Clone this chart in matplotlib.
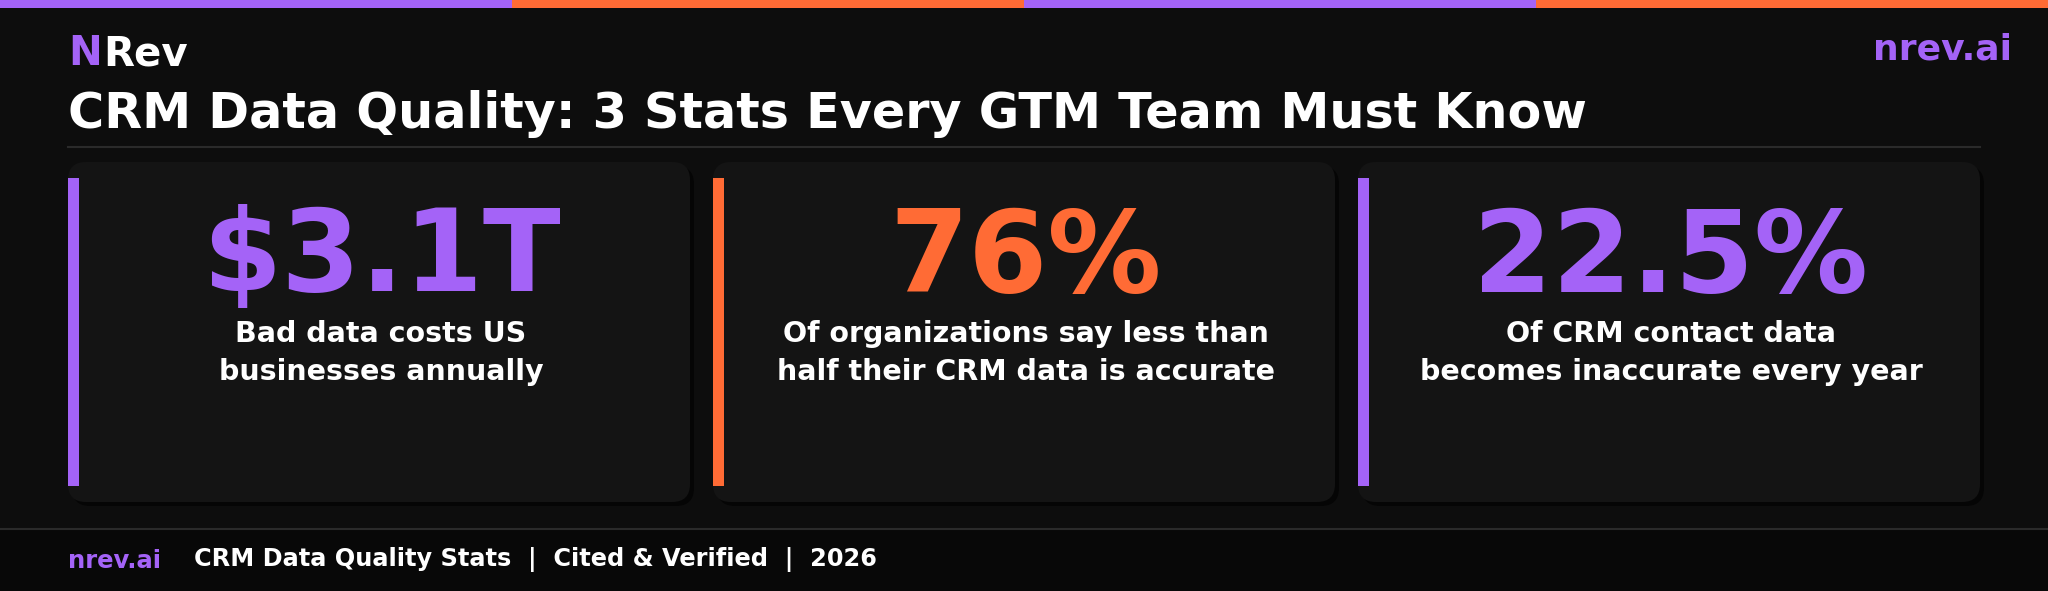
import matplotlib.pyplot as plt
from matplotlib.patches import FancyBboxPatch, Rectangle

PURPLE = "#a463f7"
ORANGE = "#ff6b35"

stat_values = ["$3.1T", "76%", "22.5%"]
stat_labels = [
    "Bad data costs US\nbusinesses annually",
    "Of organizations say less than\nhalf their CRM data is accurate",
    "Of CRM contact data\nbecomes inaccurate every year",
]
stat_colors = [PURPLE, ORANGE, PURPLE]
stripe_colors = [PURPLE, ORANGE, PURPLE, ORANGE]

W, H = 2048, 591
fig = plt.figure(figsize=(W / 100, H / 100), dpi=100)
fig.patch.set_facecolor("#0d0d0d")
ax = fig.add_axes([0, 0, 1, 1])
ax.set_xlim(0, W)
ax.set_ylim(H, 0)
ax.axis("off")

# top stripe
seg = W / len(stripe_colors)
for i, c in enumerate(stripe_colors):
    ax.add_patch(Rectangle((i * seg, 0), seg, 8, color=c, lw=0))

# header
ax.text(68, 54, "N", color=PURPLE, fontsize=29, fontweight="bold", va="center")
ax.text(103, 54, "Rev", color="white", fontsize=29, fontweight="bold", va="center")
ax.text(2012, 50, "nrev.ai", color=PURPLE, fontsize=26, fontweight="bold", va="center", ha="right")
ax.text(68, 114, "CRM Data Quality: 3 Stats Every GTM Team Must Know", color="white",
        fontsize=35.5, fontweight="bold", va="center")
ax.plot([68, 1980], [147, 147], color="#2a2a2a", lw=1.5)

# cards
card_w, gap, x0 = 622, 23, 68
for i, (val, lab, col) in enumerate(zip(stat_values, stat_labels, stat_colors)):
    x = x0 + i * (card_w + gap)
    ax.add_patch(FancyBboxPatch((x + 4, 166), card_w, 340, boxstyle="round,pad=0,rounding_size=18",
                                fc="#050505", ec="none"))
    ax.add_patch(FancyBboxPatch((x, 162), card_w, 340, boxstyle="round,pad=0,rounding_size=18",
                                fc="#141414", ec="none"))
    ax.add_patch(Rectangle((x, 178), 11, 308, color=col, lw=0))
    cx = x + 311 + 2
    ax.text(cx, 260, val, color=col, fontsize=82, fontweight="bold", ha="center", va="center")
    ax.text(cx, 353, lab, color="white", fontsize=20.5, fontweight="bold", ha="center", va="center",
            linespacing=1.5)

# footer
ax.add_patch(Rectangle((0, 529), W, H - 529, color="#080808", lw=0))
ax.plot([0, W], [529, 529], color="#2a2a2a", lw=1.5)
ax.text(68, 561, "nrev.ai", color=PURPLE, fontsize=17.5, fontweight="bold", va="center")
ax.text(194, 560, "CRM Data Quality Stats  |  Cited & Verified  |  2026", color="white",
        fontsize=17.3, fontweight="bold", va="center")

fig.savefig("out.png", dpi=100, facecolor=fig.get_facecolor())
